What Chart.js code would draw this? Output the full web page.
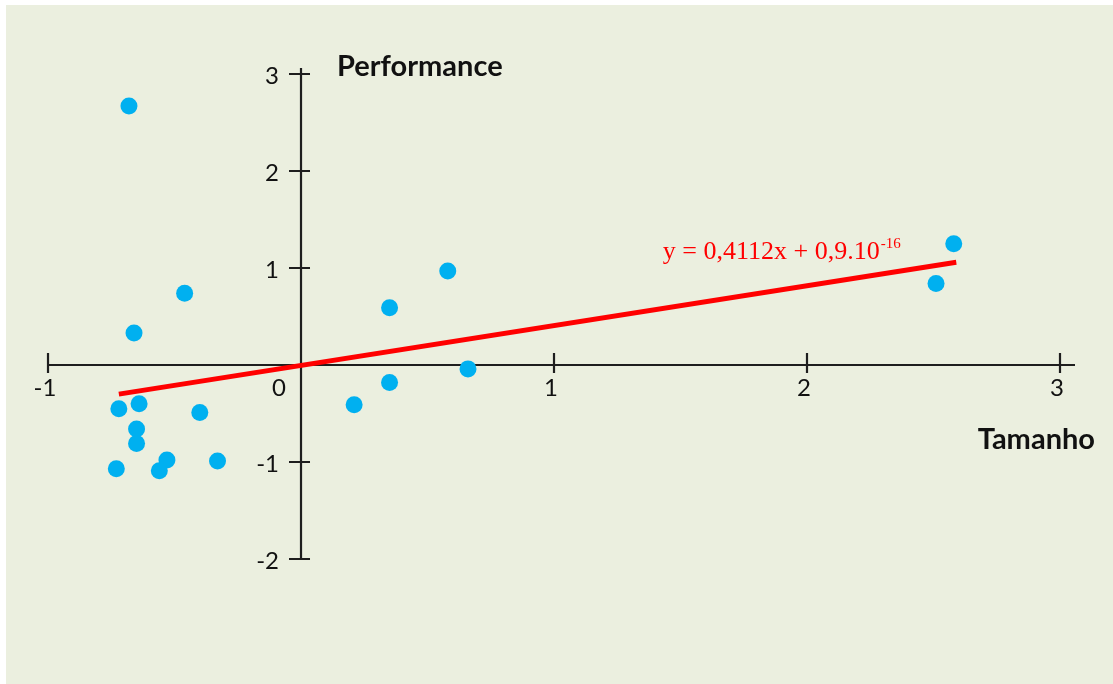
<!DOCTYPE html>
<html>
<head>
<meta charset="utf-8">
<script src="https://cdn.jsdelivr.net/npm/chart.js@4.4.1/dist/chart.umd.min.js"></script>
<style>
  html, body { margin: 0; padding: 0; background: #fff; }
  #wrap { width: 1113px; height: 684px; position: relative; }
</style>
</head>
<body>
<div id="wrap"><canvas id="chart"></canvas></div>
<script>
// values
const tamanho = [-0.68, -0.66, -0.46, -0.72, -0.64, -0.65, -0.65, -0.73, -0.53, -0.56, -0.40, -0.33, 0.21, 0.35, 0.35, 0.58, 0.66, 2.51, 2.58];
const performance = [2.67, 0.33, 0.74, -0.45, -0.40, -0.66, -0.81, -1.07, -0.98, -1.09, -0.49, -0.99, -0.41, -0.18, 0.59, 0.97, -0.04, 0.84, 1.25];
const trendX = [-0.72, 2.59];
const trendY = [-0.30, 1.06];
const xTicks = [-1, 0, 1, 2, 3];
const yTicks = [-2, -1, 1, 2, 3];
const equation = "y = 0,4112x + 0,9.10";
const equationExp = "-16";

const points = tamanho.map((x, i) => ({ x: x, y: performance[i] }));
const trend = trendX.map((x, i) => ({ x: x, y: trendY[i] }));

const tickFont = "24px Lato, 'Open Sans', sans-serif";

const drawAxes = {
  id: "drawAxes",
  beforeDraw(chart) {
    const ctx = chart.ctx;
    ctx.save();
    ctx.fillStyle = "#ebefdf";
    ctx.fillRect(6, 5, chart.width - 6, chart.height - 5);
    ctx.restore();
  },
  beforeDatasetsDraw(chart) {
    const ctx = chart.ctx, xs = chart.scales.x, ys = chart.scales.y, area = chart.chartArea;
    const ox = xs.getPixelForValue(0), oy = ys.getPixelForValue(0);
    ctx.save();
    ctx.strokeStyle = "#1e1e1e";
    ctx.lineWidth = 2.2;
    ctx.beginPath();
    ctx.moveTo(area.left, oy); ctx.lineTo(area.right, oy);
    ctx.moveTo(ox, area.top); ctx.lineTo(ox, area.bottom);
    xTicks.forEach(t => {
      const px = xs.getPixelForValue(t);
      ctx.moveTo(px, oy - 12); ctx.lineTo(px, oy + 8);
    });
    yTicks.forEach(t => {
      const py = ys.getPixelForValue(t);
      ctx.moveTo(ox - 12, py); ctx.lineTo(ox + 9, py);
    });
    ctx.stroke();

    ctx.fillStyle = "#111";
    ctx.font = tickFont;
    ctx.textBaseline = "middle";
    ctx.textAlign = "center";
    xTicks.forEach(t => {
      let px = xs.getPixelForValue(t) - 3;
      if (t === 0) px = ox - 22;
      ctx.fillText(String(t), px, oy + 23);
    });
    ctx.textAlign = "right";
    yTicks.forEach(t => {
      ctx.fillText(String(t), ox - 22, ys.getPixelForValue(t) + 2);
    });

    ctx.font = "bold 29px Lato, 'Open Sans', sans-serif";
    ctx.textBaseline = "alphabetic";
    ctx.textAlign = "left";
    ctx.fillText("Performance", ox + 36, area.top + 8);
    ctx.textAlign = "right";
    ctx.fillText("Tamanho", area.right + 20, oy + 84);
    ctx.restore();
  },
  afterDatasetsDraw(chart) {
    const ctx = chart.ctx, xs = chart.scales.x, ys = chart.scales.y;
    const ex = xs.getPixelForValue(1.43), ey = ys.getPixelForValue(1.09);
    ctx.save();
    ctx.fillStyle = "#ff0000";
    ctx.textBaseline = "alphabetic";
    ctx.textAlign = "left";
    ctx.font = "26px 'Liberation Serif', 'DejaVu Serif', serif";
    ctx.fillText(equation, ex, ey);
    const w = ctx.measureText(equation).width;
    ctx.font = "15px 'Liberation Serif', 'DejaVu Serif', serif";
    ctx.fillText(equationExp, ex + w + 1, ey - 11);
    ctx.restore();
  }
};

new Chart(document.getElementById("chart"), {
  type: "scatter",
  data: {
    datasets: [
      {
        label: "Tendência",
        data: trend,
        showLine: true,
        borderColor: "#ff0000",
        borderWidth: 5,
        pointRadius: 0,
        fill: false,
        order: 2
      },
      {
        label: "Dados",
        data: points,
        backgroundColor: "#00b0f0",
        borderColor: "#00b0f0",
        borderWidth: 0,
        pointRadius: 8.5,
        order: 1
      }
    ]
  },
  options: {
    responsive: true,
    maintainAspectRatio: false,
    animation: false,
    layout: { padding: { left: 47, right: 38, top: 68, bottom: 124 } },
    plugins: { legend: { display: false }, tooltip: { enabled: false } },
    scales: {
      x: { type: "linear", display: false, min: -1.004, max: 3.0593 },
      y: { type: "linear", display: false, min: -2.0103, max: 3.0619 }
    }
  },
  plugins: [drawAxes]
});
</script>
</body>
</html>
